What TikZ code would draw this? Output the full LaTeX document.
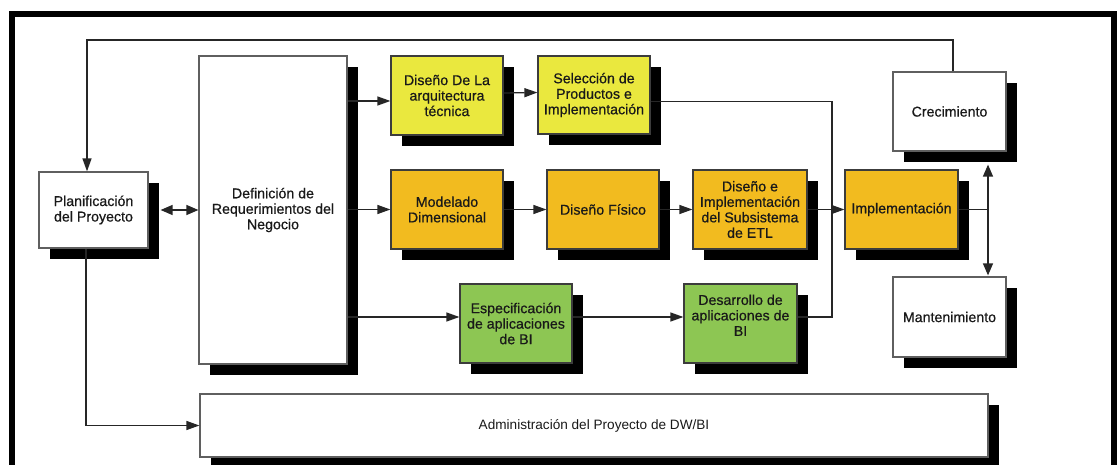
\documentclass[tikz,border=0pt]{standalone}
\usepackage{fontspec}
\setmainfont{Liberation Sans}
\newfontfamily\boxfont{Liberation Sans}[BoldFont=Liberation Sans, BoldFeatures={FakeBold=0.6}]
\usetikzlibrary{shadows,arrows.meta}
\definecolor{cyellow}{RGB}{234,232,62}
\definecolor{corange}{RGB}{242,187,31}
\definecolor{cgreen}{RGB}{141,198,83}
\definecolor{cborder}{RGB}{60,60,60}
\definecolor{cwborder}{RGB}{95,95,95}
\tikzset{
  box/.style={draw=cborder, line width=1.2pt, align=center, inner sep=2pt,
    font=\boxfont\bfseries\fontsize{14.2}{15.5}\selectfont, text=black!90,
    drop shadow={shadow xshift=11pt, shadow yshift=-11pt, fill=black, opacity=1}},
  wbox/.style={box, draw=cwborder, fill=white},
  ybox/.style={box, fill=cyellow},
  obox/.style={box, fill=corange},
  gbox/.style={box, fill=cgreen},
  conn/.style={line width=1.3pt, draw=black!85},
  arr/.style={conn, -{Triangle[length=13pt,width=9pt]}},
  darr/.style={conn, {Triangle[length=12pt,width=10pt]}-{Triangle[length=12pt,width=10pt]}},
}
\begin{document}
\begin{tikzpicture}[x=1pt,y=-1pt]
\useasboundingbox (0,0) rectangle (1117,465);
\clip (0,0) rectangle (1117,465);
\fill[white] (0,0) rectangle (1117,465);
\draw[line width=6pt] (11.5,14) rectangle (1113.5,490);

% nodes
\node[wbox, minimum width=109pt, minimum height=76pt] (plan) at (93.5,210) {Planificación\\del Proyecto};
\node[wbox, minimum width=148pt, minimum height=308pt] (def) at (273,210) {Definición de\\Requerimientos del\\Negocio};
\node[ybox, minimum width=112pt, minimum height=79pt] (arq) at (447,95.5) {Diseño De La\\arquitectura\\técnica};
\node[ybox, minimum width=112pt, minimum height=78pt] (sel) at (594,95) {Selección de\\Productos e\\Implementación};
\node[obox, minimum width=112pt, minimum height=79pt] (mod) at (447,209.5) {Modelado\\Dimensional};
\node[obox, minimum width=112pt, minimum height=79pt] (fis) at (603,209.5) {Diseño Físico};
\node[obox, minimum width=114pt, minimum height=79pt] (etl) at (750,209.5) {Diseño e\\Implementación\\del Subsistema\\de ETL};
\node[obox, minimum width=113pt, minimum height=79pt] (impl) at (901.5,209.5) {Implementación};
\node[wbox, minimum width=113pt, minimum height=79pt] (crec) at (949.5,111.5) {Crecimiento};
\node[wbox, minimum width=113pt, minimum height=80pt] (mant) at (949.5,317) {Mantenimiento};
\node[gbox, minimum width=112pt, minimum height=79pt] (esp) at (516,323.5) {Especificación\\de aplicaciones\\de BI};
\node[gbox, minimum width=113pt, minimum height=79pt] (des) at (740.5,323.5) {Desarrollo de\\aplicaciones de\\BI\\[1pt]\mbox{}};
\node[wbox, minimum width=788pt, minimum height=63pt, font=\fontsize{13.6}{15}\selectfont] (adm) at (594,425.5) {Administración del Proyecto de DW/BI};

% helper coordinates
\coordinate (bus) at (832,209.5);
\coordinate (vj) at (988,209.5);
\coordinate (fb) at (87,40);

% connectors
\draw[darr] ([xshift=12pt]plan.east) -- (def.west);
\draw[arr] ([yshift=-5.5pt]arq.west -| def.east) -- ([yshift=-5.5pt]arq.west);
\draw[arr] ([yshift=2.5pt]arq.east) -- ([yshift=2.5pt]sel.west);
\draw[conn] ([yshift=-6.5pt]sel.east) -| (bus);
\draw[arr] (def.east |- mod.west) -- (mod.west);
\draw[arr] (mod.east) -- (fis.west);
\draw[arr] (fis.east) -- (etl.west);
\draw[arr] (etl.east) -- (impl.west);
\draw[arr] ([yshift=6.5pt]esp.west -| def.east) -- ([yshift=6.5pt]esp.west);
\draw[arr] ([yshift=6.5pt]esp.east) -- ([yshift=6.5pt]des.west);
\draw[conn] ([yshift=6.5pt]des.east) -| (bus);
\draw[conn] (impl.east) -- (vj);
\draw[darr] ([yshift=-13pt]crec.south -| vj) -- ([yshift=1pt]mant.north -| vj);
\draw[arr] ([xshift=3.5pt]crec.north) |- (fb) -- (fb |- plan.north);
\draw[arr] ([xshift=-7.5pt]plan.south) |- (adm.west);
\end{tikzpicture}
\end{document}
